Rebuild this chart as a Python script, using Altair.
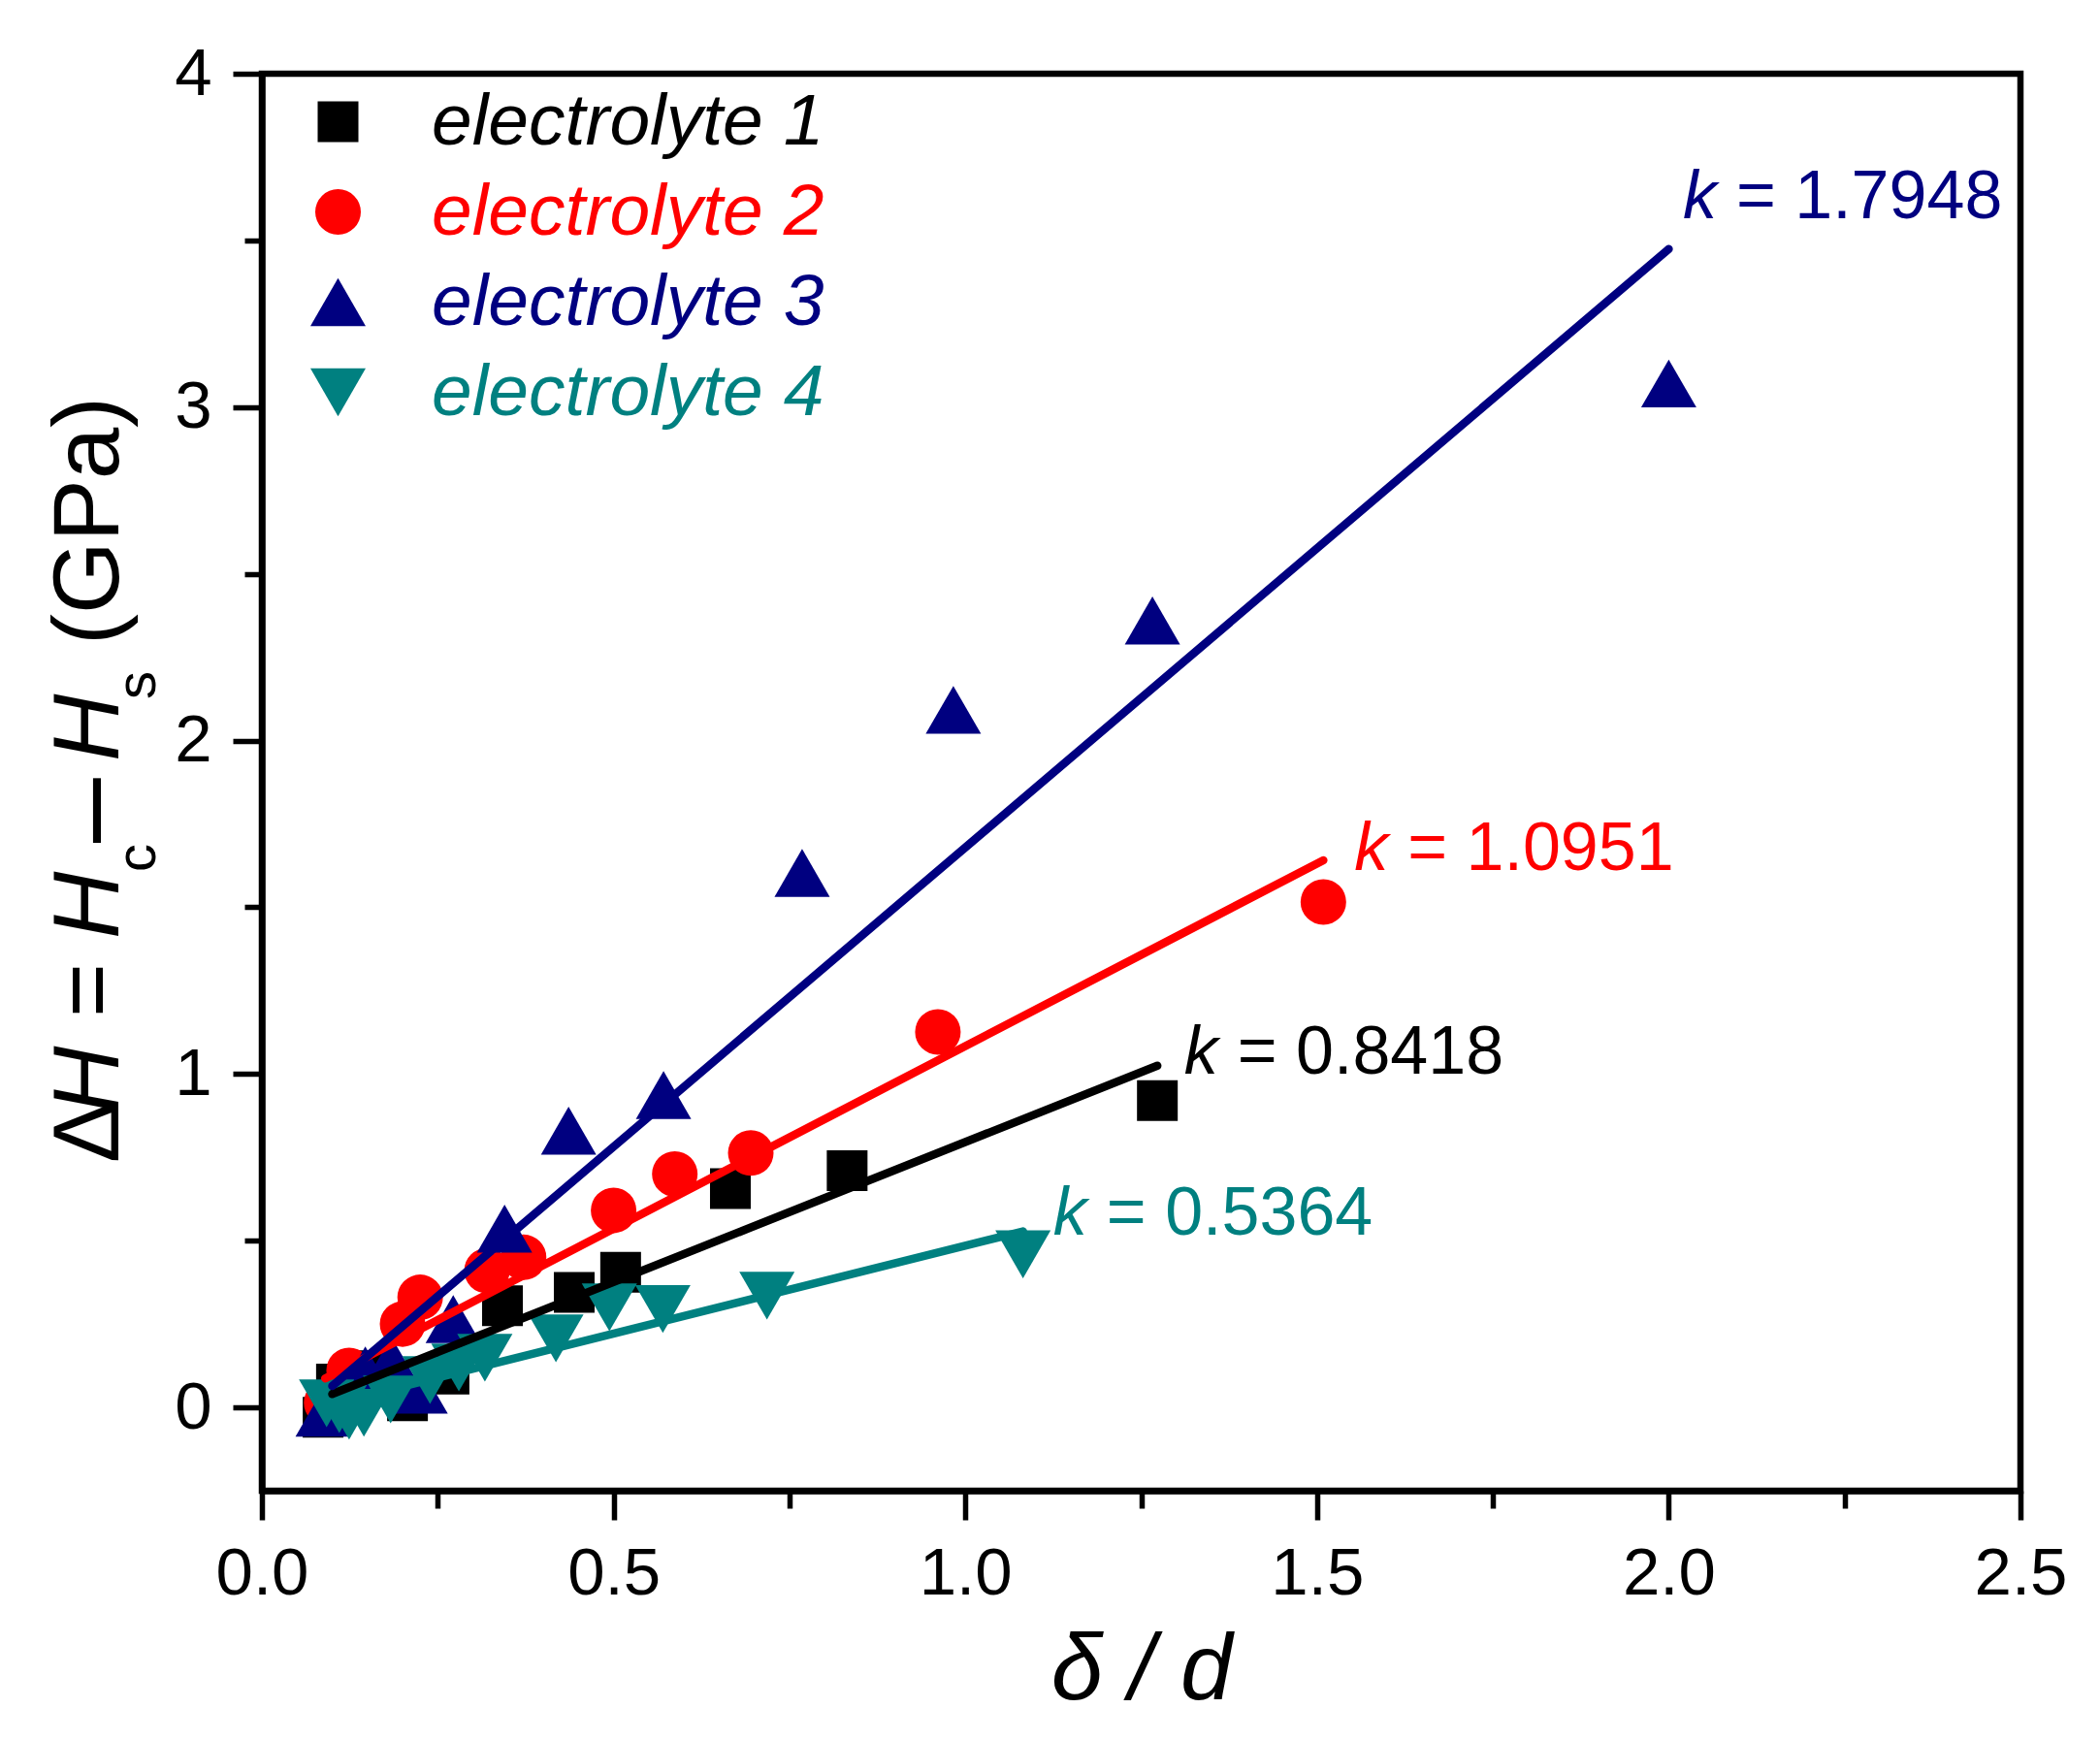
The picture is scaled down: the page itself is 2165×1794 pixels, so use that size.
import altair as alt
import pandas as pd

FONT = "Liberation Sans"

series_names = ["electrolyte 1", "electrolyte 2", "electrolyte 3", "electrolyte 4"]
series_colors = ["#000000", "#FF0000", "#000080", "#008080"]
series_shapes = ["square", "circle", "triangle-up", "triangle-down"]
series_sizes = [1764, 2209, 3249, 3249]

# electrolyte 1 (black squares)
e1_x = [0.087, 0.106, 0.161, 0.207, 0.266, 0.342, 0.444, 0.510, 0.666, 0.832, 1.273]
e1_y = [-0.030, 0.070, 0.110, 0.020, 0.100, 0.305, 0.345, 0.405, 0.656, 0.710, 0.920]
# electrolyte 2 (red circles)
e2_x = [0.092, 0.124, 0.200, 0.225, 0.320, 0.372, 0.500, 0.587, 0.695, 0.961, 1.509]
e2_y = [0.014, 0.111, 0.250, 0.330, 0.410, 0.450, 0.591, 0.700, 0.763, 1.126, 1.516]
# electrolyte 3 (navy up-triangles)
e3_x = [0.087, 0.147, 0.184, 0.225, 0.272, 0.345, 0.436, 0.571, 0.768, 0.983, 1.266, 2.000]
e3_y = [-0.016, 0.111, 0.140, 0.053, 0.265, 0.536, 0.830, 0.937, 1.603, 2.092, 2.360, 3.071]
# electrolyte 4 (teal down-triangles)
e4_x = [0.092, 0.110, 0.124, 0.145, 0.183, 0.239, 0.280, 0.317, 0.418, 0.494, 0.570, 0.718, 1.082]
e4_y = [0.012, -0.005, -0.025, -0.016, 0.024, 0.082, 0.120, 0.149, 0.207, 0.300, 0.295, 0.335, 0.459]

# linear fits (start and end points)
fit_x0 = [0.100, 0.090, 0.100, 0.100]
fit_y0 = [0.040, 0.087, 0.064, 0.010]
fit_x1 = [1.273, 1.509, 2.000, 1.082]
fit_y1 = [1.025, 1.641, 3.474, 0.528]

# slope annotations
k_values = ["0.8418", "1.0951", "1.7948", "0.5364"]
k_label_x = [1.311, 1.553, 2.020, 1.125]
k_label_y = [1.001, 1.612, 3.567, 0.518]

x_tick_values = [0.0, 0.25, 0.5, 0.75, 1.0, 1.25, 1.5, 1.75, 2.0, 2.25, 2.5]
y_tick_values = [0.0, 0.5, 1.0, 1.5, 2.0, 2.5, 3.0, 3.5, 4.0]

# ---------- tables ----------
rows = []
for name, xs_, ys_ in zip(series_names, [e1_x, e2_x, e3_x, e4_x], [e1_y, e2_y, e3_y, e4_y]):
    for a, b in zip(xs_, ys_):
        rows.append({"x": a, "y": b, "series": name})
pts = pd.DataFrame(rows)

lrows = []
for i, name in enumerate(series_names):
    lrows.append({"x": fit_x0[i], "y": fit_y0[i], "series": name, "o": 0})
    lrows.append({"x": fit_x1[i], "y": fit_y1[i], "series": name, "o": 1})
lines_df = pd.DataFrame(lrows)

anno = pd.DataFrame({
    "x": k_label_x, "y": k_label_y, "series": series_names,
    "eq": ["= " + v for v in k_values],
})

# ---------- scales / axes ----------
xscale = alt.Scale(domain=[0, 2.5], nice=False, zero=False)
yscale = alt.Scale(domain=[-0.25, 4], nice=False, zero=False)
color_scale = alt.Scale(domain=series_names, range=series_colors)
shape_scale = alt.Scale(domain=series_names, range=series_shapes)
size_scale = alt.Scale(type="ordinal", domain=series_names, range=series_sizes)

xaxis = alt.Axis(
    values=x_tick_values,
    labelExpr="datum.value % 0.5 == 0 ? format(datum.value, '.1f') : ''",
    tickSize={"condition": {"test": "datum.value % 0.5 == 0", "value": 30}, "value": 18},
    labelFontSize=69, labelPadding=21, labelOverlap=False, labelFlush=False,
    titleFontSize=96, titleFontStyle="italic", titleFontWeight="normal", titlePadding=18,
    grid=False,
)
yaxis = alt.Axis(
    values=y_tick_values,
    labelExpr="datum.value % 1 == 0 ? format(datum.value, 'd') : ''",
    tickSize={"condition": {"test": "datum.value % 1 == 0", "value": 30}, "value": 18},
    labelFontSize=69, labelPadding=22, labelOverlap=False, labelFlush=False,
    title=None, grid=False,
)

label_color_expr = ""
for n, c in zip(series_names, series_colors):
    label_color_expr += f"datum.value == '{n}' ? '{c}' : "
label_color_expr += "'black'"

legend = alt.Legend(
    orient="none", legendX=41, legendY=12, padding=0, title=None,
    labelFont=FONT, labelFontSize=75, labelFontStyle="italic", labelOffset=59,
    rowPadding=17, symbolStrokeWidth=0, labelLimit=1000,
    labelColor=alt.ExprRef(expr=label_color_expr),
)

points = alt.Chart(pts).mark_point(filled=True, opacity=1, strokeWidth=0).encode(
    x=alt.X("x:Q", scale=xscale, axis=xaxis, title="δ / d"),
    y=alt.Y("y:Q", scale=yscale, axis=yaxis),
    color=alt.Color("series:N", scale=color_scale, legend=legend, sort=series_names),
    shape=alt.Shape("series:N", scale=shape_scale, legend=legend, sort=series_names),
    size=alt.Size("series:N", scale=size_scale, legend=legend, sort=series_names),
)

fits = alt.Chart(lines_df).mark_line(strokeWidth=8.5, strokeCap="round").encode(
    x=alt.X("x:Q", scale=xscale),
    y=alt.Y("y:Q", scale=yscale),
    color=alt.Color("series:N", scale=color_scale, legend=None),
    detail="series:N",
    order="o:Q",
)

k_text = alt.Chart(anno).mark_text(
    text="k", font=FONT, fontSize=70, fontStyle="italic", align="left", baseline="alphabetic"
).encode(
    x=alt.X("x:Q", scale=xscale),
    y=alt.Y("y:Q", scale=yscale),
    color=alt.Color("series:N", scale=color_scale, legend=None),
)
eq_text = alt.Chart(anno).mark_text(
    font=FONT, fontSize=70, align="left", baseline="alphabetic", dx=55
).encode(
    x=alt.X("x:Q", scale=xscale),
    y=alt.Y("y:Q", scale=yscale),
    text="eq:N",
    color=alt.Color("series:N", scale=color_scale, legend=None),
)

# ---------- rotated y-axis title built from pieces (mixed italic / subscripts) ----------
OX, OY = 270, 76
title_pieces = [
    ("Δ", 122, 1199, 96, "normal"),
    ("H", 122, 1148, 96, "italic"),
    ("=", 122, 1049, 96, "normal"),
    ("H", 122, 968, 96, "italic"),
    ("c", 160, 899, 58, "normal"),
    ("–", 131, 869, 120, "normal"),
    ("H", 122, 785, 96, "italic"),
    ("s", 160, 721, 58, "normal"),
    ("(GPa)", 122, 665, 96, "normal"),
]
dummy = pd.DataFrame({"a": [0]})
title_layers = []
for txt, px, py, fs, st in title_pieces:
    title_layers.append(
        alt.Chart(dummy).mark_text(
            text=txt, font=FONT, fontSize=fs, fontStyle=st, angle=270,
            align="left", baseline="alphabetic", color="black",
        ).encode(x=alt.value(px - OX), y=alt.value(py - OY))
    )

chart = alt.layer(points, fits, k_text, eq_text, *title_layers).properties(
    width=1813,
    height=1461,
    padding={"left": 262, "top": 68, "right": 70, "bottom": 240},
    autosize=alt.AutoSizeParams(type="none"),
).configure(font=FONT).configure_view(
    stroke="black", strokeWidth=6.5
).configure_axis(
    domainColor="black", domainWidth=6.5, tickColor="black", tickWidth=5.5,
    labelColor="black", titleColor="black", labelFont=FONT, titleFont=FONT,
)

chart.save("out.html", embed_options={"renderer": "svg", "actions": False})
